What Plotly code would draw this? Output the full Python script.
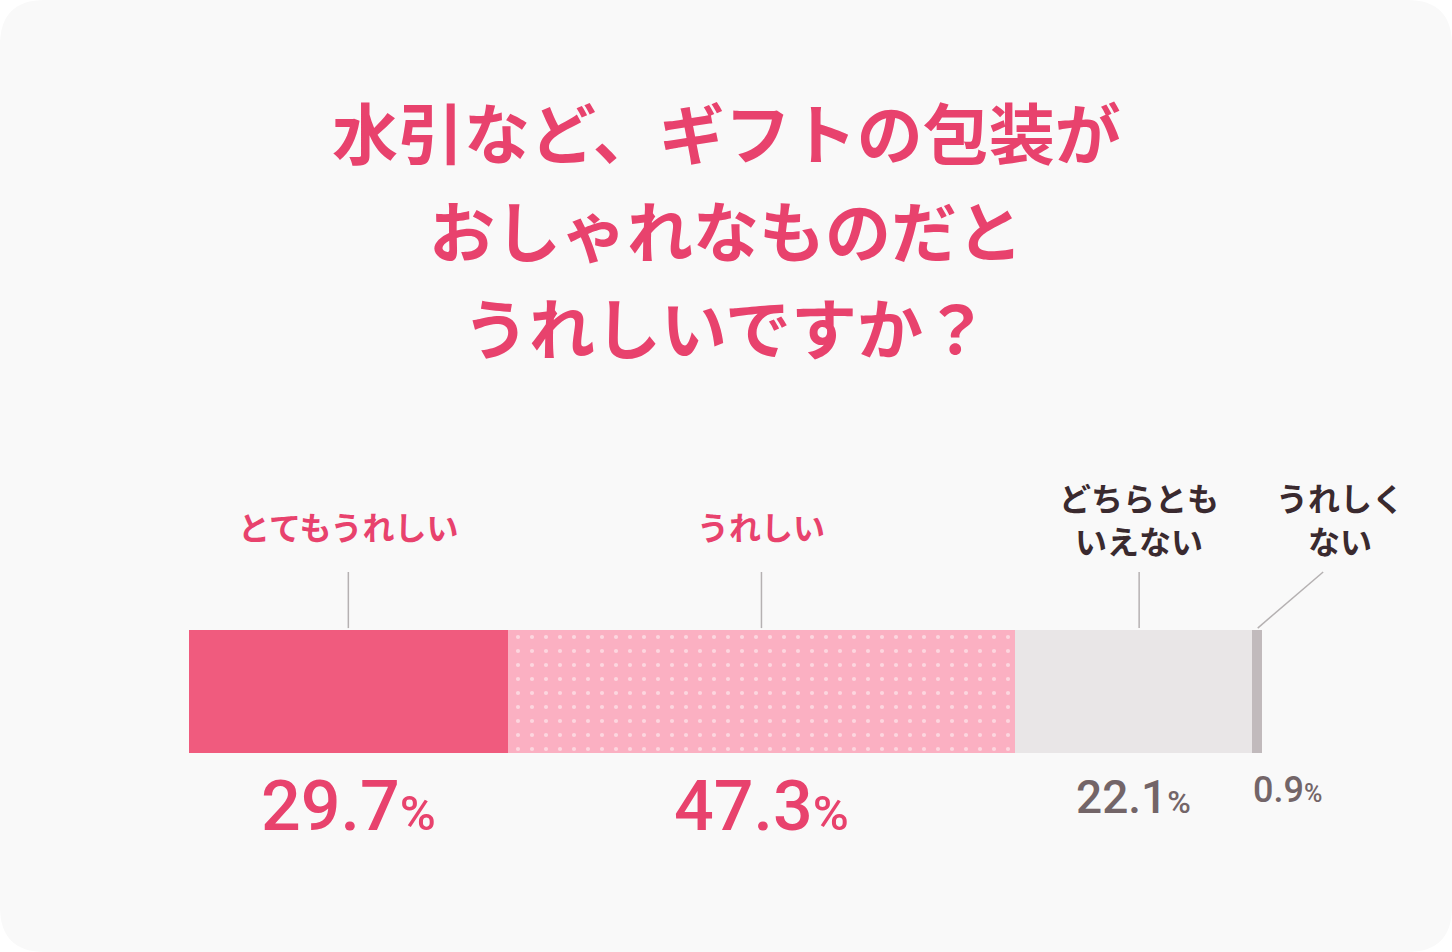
import plotly.graph_objects as go

# survey answers, left to right
categories = ["とてもうれしい", "うれしい", "どちらとも<br>いえない", "うれしく<br>ない"]
values = [29.7, 47.3, 22.1, 0.9]
title_lines = ["水引など、ギフトの包装が", "おしゃれなものだと", "うれしいですか？"]

bar_colors = ["#f05b7e", "#fbb0c2", "#e9e6e7", "#c1babc"]
label_colors = ["#e8426d", "#e8426d", "#3a2a2f", "#3a2a2f"]
pct_colors = ["#e8426d", "#e8426d", "#736568", "#736568"]
pct_sizes = [70, 70, 46, 36]
pct_y = [0.153, 0.153, 0.163, 0.170]

W, H = 1452, 952
PINK = "#e8426d"
JP = "Noto Sans CJK JP"
X_MAX = 115  # axis runs a bit past 100 so the last label fits

fig = go.Figure()

for i, (cat, v) in enumerate(zip(categories, values)):
    marker = dict(color=bar_colors[i], line=dict(width=0))
    if i == 1:
        marker["pattern"] = dict(shape=".", size=14, solidity=0.07,
                                 fgcolor="#fdd6df", bgcolor=bar_colors[i],
                                 fgopacity=1)
    fig.add_trace(go.Bar(x=[v], y=[0], orientation="h", width=1,
                         marker=marker, name=cat.replace("<br>", ""),
                         hoverinfo="skip"))

# cumulative midpoints used for labels and leader lines
mids = []
acc = 0
for v in values:
    mids.append(acc + v / 2)
    acc += v
# last slice is too thin, its label sits off to the right
label_x = mids[:2] + [mids[2] + 0.5, 107.3]
pct_x = mids[:3] + [102.4]

bar_top = 1 - 630 / H
for i, cat in enumerate(categories):
    lines = cat.split("<br>")
    ys = [526] if len(lines) == 1 else [497, 540]
    for part, yy in zip(lines, ys):
        fig.add_annotation(x=label_x[i], y=1 - yy / H, xref="x", yref="paper",
                           text="<b>" + part + "</b>", showarrow=False,
                           font=dict(family=JP, size=32, color=label_colors[i]),
                           xanchor="center", yanchor="middle")
    # leader lines
    if i < 3:
        fig.add_shape(type="line", xref="x", yref="paper",
                      x0=label_x[i], x1=label_x[i], y0=1 - 572 / H, y1=bar_top + 0.002,
                      line=dict(color="#b5b1b2", width=1.5))
    else:
        fig.add_shape(type="line", xref="x", yref="paper",
                      x0=105.7, x1=acc - 0.4,
                      y0=1 - 572 / H, y1=bar_top + 0.002,
                      line=dict(color="#b5b1b2", width=1.5))
    num = f"{values[i]:.1f}"
    fig.add_annotation(x=pct_x[i], y=pct_y[i], xref="x", yref="paper",
                       text=f"{num}<span style='font-size:{int(pct_sizes[i] * 0.7)}px'>%</span>",
                       showarrow=False,
                       font=dict(family="Roboto", size=pct_sizes[i], color=pct_colors[i],
                                 weight=500),
                       xanchor="center", yanchor="middle")

title_y = [130, 228, 325]
for line, yy in zip(title_lines, title_y):
    fig.add_annotation(x=0.5, y=1 - yy / H, xref="paper", yref="paper",
                       text="<b>" + line + "</b>", showarrow=False,
                       font=dict(family=JP, size=66, color=PINK),
                       xanchor="center", yanchor="middle")

# rounded card background
rx, ry = 45 / W, 45 / H
card = (f"M {rx},1 L {1 - rx},1 Q 1,1 1,{1 - ry} L 1,{ry} Q 1,0 {1 - rx},0 "
        f"L {rx},0 Q 0,0 0,{ry} L 0,{1 - ry} Q 0,1 {rx},1 Z")
fig.add_shape(type="path", path=card, xref="paper", yref="paper",
              fillcolor="#f9f9f9", line=dict(width=0), layer="below")

px_per_unit = (1262 - 189) / 100
fig.update_layout(
    width=W, height=H,
    margin=dict(l=0, r=0, t=0, b=0),
    paper_bgcolor="#ffffff", plot_bgcolor="rgba(0,0,0,0)",
    barmode="stack", bargap=0, showlegend=False,
    xaxis=dict(range=[0, X_MAX], domain=[189 / W, (189 + X_MAX * px_per_unit) / W],
               visible=False, fixedrange=True),
    yaxis=dict(range=[-0.5, 0.5], domain=[1 - 753 / H, 1 - 630 / H], visible=False,
               fixedrange=True),
)

fig.write_html("out.html", config={"displayModeBar": False},
               post_script="document.body.style.margin='0';")
